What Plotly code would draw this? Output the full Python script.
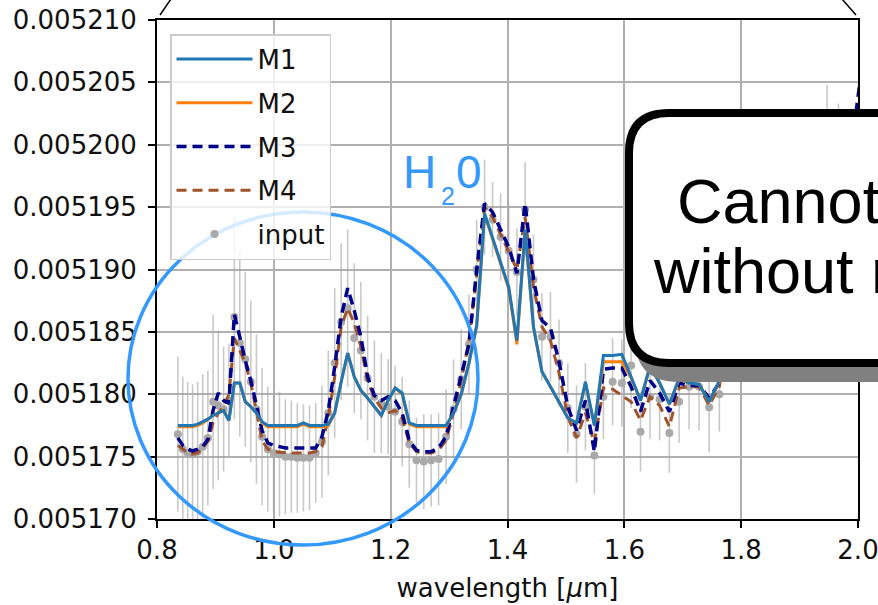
import plotly.graph_objects as go

# ---------------- data ----------------
wavelength = [
    0.8357, 0.8441, 0.8525, 0.8610, 0.8696, 0.8783, 0.8871, 0.8960, 0.9049, 0.9140,
    0.9231, 0.9324, 0.9417, 0.9511, 0.9606, 0.9702, 0.9799, 0.9897, 0.9996, 1.0096,
    1.0197, 1.0299, 1.0402, 1.0506, 1.0611, 1.0717, 1.0824, 1.0933, 1.1042, 1.1153,
    1.1264, 1.1377, 1.1490, 1.1605, 1.1721, 1.1839, 1.1957, 1.2076, 1.2197, 1.2319,
    1.2442, 1.2567, 1.2693, 1.2820, 1.2948, 1.3077, 1.3208, 1.3340, 1.3473, 1.3608,
    1.3744, 1.3882, 1.4020, 1.4161, 1.4302, 1.4445, 1.4590, 1.4736, 1.4883, 1.5032,
    1.5182, 1.5334, 1.5487, 1.5642, 1.5799, 1.5957, 1.6116, 1.6277, 1.6440, 1.6604,
    1.6771, 1.6938, 1.7108, 1.7279, 1.7452, 1.7626, 1.7802, 1.7980, 1.8160, 1.8342,
    1.8525, 1.8711, 1.8897, 1.9087, 1.9277, 1.9470, 1.9665, 1.9861, 2.0060]

m1 = [
    0.0051775, 0.0051775, 0.0051775, 0.0051775, 0.0051776, 0.0051778, 0.0051780, 0.0051783, 0.0051785, 0.0051787,
    0.0051779, 0.0051809, 0.0051809, 0.0051794, 0.0051790, 0.0051785, 0.0051778, 0.0051775, 0.0051775, 0.0051775,
    0.0051775, 0.0051775, 0.0051775, 0.0051777, 0.0051775, 0.0051775, 0.0051775, 0.0051776, 0.0051785, 0.0051810,
    0.0051833, 0.0051814, 0.0051803, 0.0051797, 0.0051790, 0.0051783, 0.0051795, 0.0051805, 0.0051801, 0.0051777,
    0.0051775, 0.0051775, 0.0051775, 0.0051775, 0.0051775, 0.0051785, 0.0051800, 0.0051825, 0.0051855, 0.0051945,
    0.0051926, 0.0051905, 0.0051886, 0.0051843, 0.0051932, 0.0051854, 0.0051818, 0.0051806, 0.0051794, 0.0051781,
    0.0051777, 0.0051810, 0.0051775, 0.0051831, 0.0051831, 0.0051832, 0.0051814, 0.0051795, 0.0051823, 0.0051809,
    0.0051792, 0.0051813, 0.0051809, 0.0051808, 0.0051794, 0.0051811, 0.0051860, 0.0051890, 0.0051910, 0.0051920,
    0.0051930, 0.0051940, 0.0051945, 0.0051955, 0.0051965, 0.0051980, 0.0051975, 0.0051980, 0.0052000]

m2 = [
    0.0051774, 0.0051774, 0.0051774, 0.0051774, 0.0051775, 0.0051777, 0.0051780, 0.0051783, 0.0051785, 0.0051787,
    0.0051779, 0.0051809, 0.0051809, 0.0051794, 0.0051790, 0.0051785, 0.0051777, 0.0051774, 0.0051774, 0.0051774,
    0.0051774, 0.0051774, 0.0051774, 0.0051776, 0.0051774, 0.0051774, 0.0051774, 0.0051775, 0.0051785, 0.0051810,
    0.0051833, 0.0051814, 0.0051803, 0.0051797, 0.0051790, 0.0051783, 0.0051795, 0.0051805, 0.0051800, 0.0051776,
    0.0051774, 0.0051774, 0.0051774, 0.0051774, 0.0051774, 0.0051785, 0.0051800, 0.0051825, 0.0051855, 0.0051944,
    0.0051925, 0.0051904, 0.0051885, 0.0051840, 0.0051931, 0.0051853, 0.0051818, 0.0051806, 0.0051794, 0.0051781,
    0.0051777, 0.0051809, 0.0051775, 0.0051826, 0.0051826, 0.0051826, 0.0051813, 0.0051795, 0.0051822, 0.0051809,
    0.0051792, 0.0051812, 0.0051809, 0.0051808, 0.0051794, 0.0051810, 0.0051860, 0.0051890, 0.0051910, 0.0051920,
    0.0051930, 0.0051940, 0.0051945, 0.0051955, 0.0051965, 0.0051980, 0.0051975, 0.0051980, 0.0052000]

m3 = [
    0.0051765, 0.0051759, 0.0051756, 0.00517545, 0.0051756, 0.0051758, 0.0051764, 0.0051787, 0.0051801, 0.0051795,
    0.0051793, 0.0051864, 0.0051846, 0.0051827, 0.0051811, 0.0051790, 0.0051771, 0.0051761, 0.0051759, 0.0051758,
    0.0051757, 0.0051757, 0.0051757, 0.0051757, 0.0051757, 0.0051757, 0.0051766, 0.0051787, 0.0051822, 0.0051862,
    0.0051885, 0.0051867, 0.0051846, 0.0051814, 0.0051799, 0.0051795, 0.0051798, 0.0051795, 0.0051785, 0.0051763,
    0.0051755, 0.0051754, 0.0051754, 0.0051757, 0.0051766, 0.0051790, 0.0051814, 0.0051840, 0.0051900, 0.0051953,
    0.0051946, 0.0051932, 0.0051918, 0.0051897, 0.0051953, 0.0051892, 0.0051859, 0.0051853, 0.0051826, 0.0051790,
    0.0051771, 0.0051795, 0.0051754, 0.0051820, 0.0051821, 0.0051821, 0.0051806, 0.0051786, 0.0051811, 0.0051801,
    0.0051786, 0.0051809, 0.0051807, 0.0051807, 0.0051797, 0.0051809, 0.0051860, 0.0051890, 0.0051915, 0.0051925,
    0.0051935, 0.0051945, 0.0051950, 0.0051960, 0.0051970, 0.0051985, 0.0051983, 0.0051988, 0.0052060]

m4 = [
    0.0051759, 0.0051756, 0.0051753, 0.0051752, 0.0051753, 0.0051757, 0.0051762, 0.0051777, 0.0051785, 0.0051790,
    0.0051800, 0.0051845, 0.0051835, 0.0051825, 0.0051809, 0.0051785, 0.0051763, 0.0051756, 0.0051754, 0.00517535,
    0.0051753, 0.0051753, 0.0051753, 0.0051753, 0.0051753, 0.0051754, 0.0051758, 0.0051782, 0.0051814, 0.0051854,
    0.0051869, 0.0051857, 0.0051838, 0.0051811, 0.0051797, 0.0051789, 0.0051785, 0.0051787, 0.0051781, 0.0051761,
    0.0051754, 0.0051753, 0.0051753, 0.0051755, 0.0051763, 0.0051785, 0.0051811, 0.0051843, 0.0051894, 0.0051950,
    0.0051942, 0.0051928, 0.0051914, 0.0051900, 0.0051942, 0.0051886, 0.0051854, 0.0051843, 0.0051817, 0.0051782,
    0.0051765, 0.0051785, 0.0051761, 0.0051805, 0.0051804, 0.0051799, 0.0051794, 0.0051779, 0.0051798, 0.0051791,
    0.0051774, 0.0051805, 0.0051806, 0.0051806, 0.0051791, 0.0051806, 0.0051855, 0.0051885, 0.0051905, 0.0051915,
    0.0051925, 0.0051935, 0.0051940, 0.0051950, 0.0051960, 0.0051975, 0.0051970, 0.0051975, 0.0051990]

input_flux = [
    0.0051768, 0.0051756, 0.0051753, 0.0051752, 0.0051754, 0.0051758, 0.0051765, 0.0051794, 0.0051791, 0.0051788,
    0.0051795, 0.0051862, 0.0051841, 0.0051828, 0.0051810, 0.0051788, 0.0051766, 0.0051756, 0.0051753, 0.0051752,
    0.0051750, 0.0051750, 0.0051749, 0.0051749, 0.0051749, 0.0051753, 0.0051762, 0.0051785, 0.0051825, 0.0051858,
    0.0051869, 0.0051845, 0.0051835, 0.0051813, 0.0051798, 0.0051793, 0.0051790, 0.0051786, 0.0051778, 0.0051760,
    0.0051747, 0.0051746, 0.0051747, 0.0051748, 0.0051766, 0.0051788, 0.0051812, 0.0051840, 0.0051900, 0.0051950,
    0.0051940, 0.0051926, 0.0051915, 0.0051898, 0.0051948, 0.0051892, 0.0051846, 0.0051846, 0.0051825, 0.0051789,
    0.0051768, 0.0051790, 0.0051751, 0.0051798, 0.0051810, 0.0051809, 0.0051823, 0.0051770, 0.0051798, 0.0051796,
    0.0051769, 0.0051794, 0.0051806, 0.0051806, 0.00517895, 0.0051800, 0.0051860, 0.0051895, 0.0051910, 0.0051925,
    0.0051930, 0.0051940, 0.0051945, 0.0051955, 0.0051965, 0.0052010, 0.0051995, 0.0051985, 0.0052000]

input_err = [
    6.2e-6, 5.8e-6, 5.7e-6, 5.6e-6, 5.6e-6, 5.8e-6, 5.4e-6, 7.0e-6, 6.0e-6, 5.0e-6,
    4.5e-6, 8.2e-6, 7.5e-6, 7.0e-6, 6.5e-6, 6.0e-6, 5.5e-6, 5.0e-6, 4.8e-6, 5.0e-6,
    4.6e-6, 4.5e-6, 4.4e-6, 4.3e-6, 4.2e-6, 4.0e-6, 4.5e-6, 5.0e-6, 6.0e-6, 6.3e-6,
    6.3e-6, 6.0e-6, 5.5e-6, 5.0e-6, 4.5e-6, 4.0e-6, 3.8e-6, 3.7e-6, 3.6e-6, 3.5e-6,
    3.4e-6, 3.8e-6, 3.7e-6, 3.7e-6, 3.8e-6, 4.0e-6, 4.0e-6, 4.0e-6, 4.0e-6, 3.8e-6,
    3.0e-6, 3.5e-6, 3.8e-6, 3.5e-6, 3.8e-6, 3.6e-6, 3.5e-6, 3.6e-6, 3.5e-6, 3.6e-6,
    3.9e-6, 3.5e-6, 3.1e-6, 3.4e-6, 3.5e-6, 3.5e-6, 3.4e-6, 3.2e-6, 3.4e-6, 3.3e-6,
    3.2e-6, 3.3e-6, 3.4e-6, 3.5e-6, 3.6e-6, 3.0e-6, 3.8e-6, 3.8e-6, 3.8e-6, 3.8e-6,
    3.8e-6, 3.8e-6, 3.8e-6, 3.8e-6, 3.8e-6, 3.8e-6, 3.8e-6, 3.8e-6, 3.8e-6]

x_ticks = [0.8, 1.0, 1.2, 1.4, 1.6, 1.8, 2.0]
x_tick_labels = ["0.8", "1.0", "1.2", "1.4", "1.6", "1.8", "2.0"]
y_ticks = [0.005170, 0.005175, 0.005180, 0.005185, 0.005190, 0.005195, 0.005200, 0.005205, 0.005210]
y_tick_labels = ["0.005170", "0.005175", "0.005180", "0.005185", "0.005190",
                 "0.005195", "0.005200", "0.005205", "0.005210"]

# ---------------- geometry helpers (pixel -> paper) ----------------
W, H = 878, 605
ML, MR, MT, MB = 157, 20, 20, 86
PW, PH = W - ML - MR, H - MT - MB


def px(x):
    return (x - ML) / PW


def py(y):
    return (H - MB - y) / PH


def rounded_left_box(left, top, bottom, right, r):
    pts = [("M", right, top), ("L", left + r, top), ("Q", left, top, left, top + r),
           ("L", left, bottom - r), ("Q", left, bottom, left + r, bottom), ("L", right, bottom)]
    s = ""
    for p in pts:
        if p[0] == "Q":
            s += f"Q{px(p[1]):.5f},{py(p[2]):.5f} {px(p[3]):.5f},{py(p[4]):.5f} "
        else:
            s += f"{p[0]}{px(p[1]):.5f},{py(p[2]):.5f} "
    return s + "Z"


TICKFONT = dict(family="DejaVu Sans", size=26, color="#111111")
DASH = "10px,6px"

fig = go.Figure()
fig.add_trace(go.Scatter(
    x=wavelength, y=input_flux, mode="markers", name="input", legendrank=5, legendgroup="g5",
    marker=dict(color="#a9a9a9", size=8),
    error_y=dict(type="data", array=input_err, color="rgba(165,165,165,0.6)", thickness=1.6, width=0)))
fig.add_trace(go.Scatter(x=wavelength, y=m4, mode="lines", name="M4", legendrank=4, legendgroup="g4",
                         line=dict(color="#a0522d", width=3, dash=DASH)))
fig.add_trace(go.Scatter(x=wavelength, y=m3, mode="lines", name="M3", legendrank=3, legendgroup="g3",
                         line=dict(color="#00008b", width=3.5, dash=DASH)))
fig.add_trace(go.Scatter(x=wavelength, y=m2, mode="lines", name="M2", legendrank=2, legendgroup="g2",
                         line=dict(color="#ff7f0e", width=3)))
fig.add_trace(go.Scatter(x=wavelength, y=m1, mode="lines", name="M1", legendrank=1, legendgroup="g1",
                         line=dict(color="#1f77b4", width=3)))

shapes = [
    # blue circle around the 0.8-1.35 region
    dict(type="circle", xref="paper", yref="paper", x0=px(128), x1=px(478), y0=py(545), y1=py(212),
         line=dict(color="#3399ff", width=3.5)),
    # callout shadow and box
    dict(type="path", xref="paper", yref="paper", path=rounded_left_box(635, 124, 382, 1200, 44),
         fillcolor="#808080", line=dict(width=0)),
    dict(type="path", xref="paper", yref="paper", path=rounded_left_box(629, 113, 363, 1200, 40),
         fillcolor="white", line=dict(color="black", width=8)),
    # fragments of an outer outline at the top
    dict(type="line", xref="paper", yref="paper", x0=px(160), y0=py(15), x1=px(171), y1=py(-1),
         line=dict(color="black", width=1.5)),
    dict(type="line", xref="paper", yref="paper", x0=px(842), y0=py(-1), x1=px(856), y1=py(15),
         line=dict(color="black", width=1.5)),
]

annotations = [
    dict(text="H", x=px(419), y=py(172), xref="paper", yref="paper", xanchor="center", yanchor="middle",
         showarrow=False, font=dict(family="Liberation Sans", size=46, color="#3399ff")),
    dict(text="2", x=px(447.5), y=py(196), xref="paper", yref="paper", xanchor="center", yanchor="middle",
         showarrow=False, font=dict(family="Liberation Sans", size=25, color="#3399ff")),
    dict(text="0", x=px(468.5), y=py(172), xref="paper", yref="paper", xanchor="center", yanchor="middle",
         showarrow=False, font=dict(family="Liberation Sans", size=46, color="#3399ff")),
    dict(text="Cannot", x=px(675), y=py(201), xref="paper", yref="paper", xanchor="left", yanchor="middle",
         showarrow=False, font=dict(family="Liberation Sans", size=63, color="black")),
    dict(text="without r", x=px(651), y=py(271), xref="paper", yref="paper", xanchor="left", yanchor="middle",
         showarrow=False, font=dict(family="Liberation Sans", size=63, color="black")),
]

axis_common = dict(showgrid=True, gridcolor="#b0b0b0", gridwidth=1.5, zeroline=False,
                   showline=True, linecolor="black", linewidth=2, mirror=True,
                   ticks="outside", ticklen=7, tickwidth=2, tickcolor="black", tickfont=TICKFONT,
                   ticklabeloverflow="allow", automargin=False)

fig.update_layout(
    width=W, height=H,
    margin=dict(l=ML, r=MR, t=MT, b=MB, pad=0, autoexpand=False),
    paper_bgcolor="white", plot_bgcolor="white",
    xaxis=dict(range=[0.8, 2.0], tickvals=x_ticks, ticktext=x_tick_labels,
               title=dict(text="wavelength [<i>μ</i>m]", font=dict(family="DejaVu Sans", size=26, color="#111111"),
                          standoff=15),
               **axis_common),
    yaxis=dict(range=[0.005170, 0.005210], tickvals=y_ticks, ticktext=y_tick_labels,
               ticklabelstandoff=6, **axis_common),
    legend=dict(x=px(170), y=py(34), xanchor="left", yanchor="top",
                bgcolor="rgba(255,255,255,0.8)", bordercolor="#cccccc", borderwidth=1.5,
                font=dict(family="DejaVu Sans", size=26, color="#111111"),
                traceorder="grouped", tracegroupgap=7, itemwidth=76),
    showlegend=True,
    shapes=shapes,
    annotations=annotations,
)

fig.write_html("out.html")
